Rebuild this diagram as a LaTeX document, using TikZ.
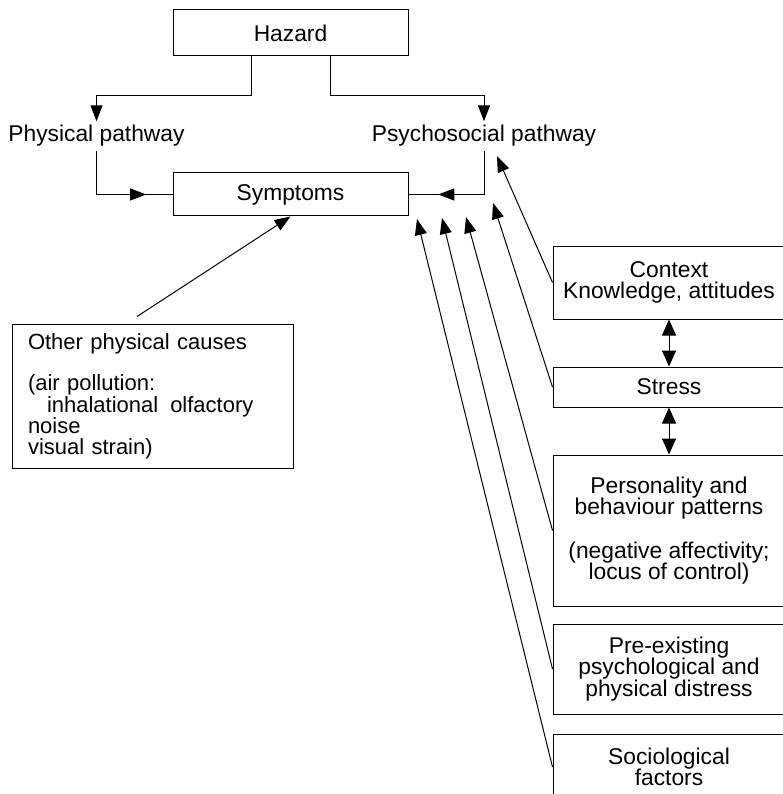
\documentclass[tikz,border=0pt]{standalone}
\usepackage{fontspec}
\setmainfont{Liberation Sans}
\usetikzlibrary{arrows.meta,calc,decorations.markings}
\tikzset{
  every node/.style={font=\fontsize{22.8}{21.5}\selectfont},
  box/.style={draw,rectangle,line width=1pt,inner sep=2pt},
  topbox/.style={box,minimum width=235pt},
  factor/.style={box,minimum width=232pt,align=center},
  pathtext/.style={inner sep=4pt,anchor=base},
  conn/.style={line width=1pt,-{Triangle[length=16pt,width=12pt]}},
  dblconn/.style={line width=1pt,{Triangle[length=16pt,width=14pt]}-{Triangle[length=16pt,width=14pt]}},
  midarrow/.style={line width=1pt,postaction={decorate},
    decoration={markings,mark=at position #1 with {\arrow{Triangle[length=16pt,width=12pt]}}}},
}
\begin{document}
\begin{tikzpicture}[x=1pt,y=-1pt]
\useasboundingbox (0,0) rectangle (782,794);

% top of the chart
\node[topbox,minimum height=46pt] (hazard) at (290.5,33) {Hazard};
\node[pathtext] (physical) at (96.5,142) {Physical pathway};
\node[pathtext] (psycho) at (484,142) {Psychosocial pathway};
\node[topbox,minimum height=43pt] (symptoms) at (290.5,194.5) {Symptoms};

% other physical causes
\node[box,text width=249pt,inner xsep=16pt,minimum height=144pt,align=left,
  font=\fontsize{22}{20.5}\selectfont] (other) at (152.5,396)
  {Other physical causes\\[20pt]
   (air pollution:\\
   \hspace*{19pt}inhalational\hspace{12pt}olfactory\\
   noise\\
   visual strain)};

% factors on the right (right edge runs off the page)
\node[factor,minimum height=73pt] (context) at (669,282.5) {Context\\Knowledge, attitudes};
\node[factor,minimum height=40pt] (stress) at (669,387) {Stress};
\node[factor,minimum height=151pt] (personality) at (669,530.5)
  {Personality and\\behaviour patterns\\[22pt](negative affectivity;\\locus of control)};
\node[factor,minimum height=90pt] (preexist) at (669,669)
  {Pre-existing\\psychological and\\physical distress};
\node[factor,minimum height=66pt] (socio) at (669,767) {Sociological\\factors};

% free ends of the factor arrows
\coordinate (tcontext) at (497,156);
\coordinate (tstress) at (493,203);
\coordinate (tperson) at (466,217);
\coordinate (tpre) at (442,218);
\coordinate (tsocio) at (417,219);
\coordinate (otherend) at ($(other.north)+(-15.5,-7)$);

% the two pathways
\draw[conn] ($(hazard.south)+(-39.5,0)$) -- ++(0,39) -| (physical.north);
\draw[conn] ($(hazard.south)+(39.5,0)$) -- ++(0,39) -| (psycho.north);
\draw[midarrow=0.78] (physical.south) |- (symptoms.west);
\draw[midarrow=0.75] (psycho.south) |- (symptoms.east);

\draw[conn] (otherend) -- (symptoms.south);

% factors into symptoms
\draw[conn] (context.west) -- (tcontext);
\draw[conn] (stress.west) -- (tstress);
\draw[conn] (personality.west) -- (tperson);
\draw[conn] (preexist.west) -- (tpre);
\draw[conn] (socio.west) -- (tsocio);

\draw[dblconn] (context.south) -- (stress.north);
\draw[dblconn] (stress.south) -- (personality.north);

\end{tikzpicture}
\end{document}
